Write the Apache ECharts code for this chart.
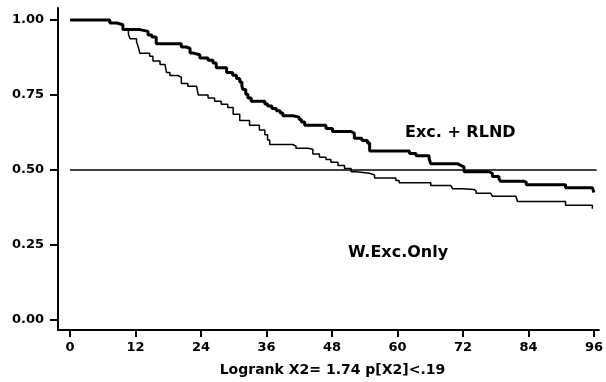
<!DOCTYPE html>
<html>
<head>
<meta charset="utf-8">
<script src="https://cdn.jsdelivr.net/npm/echarts@6/dist/echarts.min.js"></script>
<style>html,body{margin:0;padding:0;background:#fff}#c{width:606px;height:382px}</style>
</head>
<body>
<div id="c"></div>
<script>
// Tick labels
var xTicks = [0, 12, 24, 36, 48, 60, 72, 84, 96];
var yTicks = [0, 0.25, 0.5, 0.75, 1.0];

// Exc. + RLND (months, survival after each drop)
var rlndTime = [0, 7.3, 8.6, 9.7, 12.8, 14.3, 15, 15.8, 20.4, 21.3, 22, 22.5, 23.8, 25.3, 26.2, 26.8, 28.7, 29.8, 30.5, 31.1, 31.5, 31.7, 32.2, 32.6, 33.2, 35.7, 36.2, 37, 37.8, 38.5, 39, 40.8, 42, 42.4, 43, 46.9, 48.1, 51.5, 52.1, 53.5, 54.5, 54.9, 62.2, 63.4, 65.8, 66.1, 71, 71.6, 72.2, 76.8, 77.4, 78.6, 78.9, 83.2, 83.6, 90.8, 95.7, 96];
var rlndSurv = [1.0, 0.99, 0.984, 0.968, 0.962, 0.95, 0.943, 0.921, 0.91, 0.905, 0.89, 0.884, 0.873, 0.866, 0.857, 0.841, 0.825, 0.816, 0.805, 0.793, 0.78, 0.768, 0.752, 0.74, 0.729, 0.72, 0.713, 0.705, 0.697, 0.69, 0.681, 0.676, 0.668, 0.66, 0.649, 0.638, 0.628, 0.622, 0.606, 0.598, 0.59, 0.563, 0.555, 0.547, 0.537, 0.521, 0.515, 0.51, 0.494, 0.488, 0.478, 0.47, 0.462, 0.459, 0.451, 0.441, 0.437, 0.425];

// W.Exc.Only
var excTime = [0, 7.3, 8.6, 9.7, 10.7, 11, 12.2, 12.5, 12.8, 14.6, 15.2, 16.5, 17.4, 17.7, 18.3, 19.8, 20.4, 21.6, 23.2, 23.5, 25.3, 26.5, 27.7, 28.9, 29.9, 31.1, 32.9, 34.7, 35.7, 36.2, 36.6, 40.8, 41.4, 43.6, 44.5, 45.7, 46.9, 47.8, 49.1, 50.3, 51.5, 52.4, 54.9, 55.8, 59.7, 60.3, 66.1, 69.8, 70.1, 71.9, 74, 74.4, 77.1, 77.4, 81.7, 82, 90.8, 95.7];
var excSurv = [1.0, 0.99, 0.984, 0.968, 0.953, 0.9375, 0.927, 0.911, 0.889, 0.879, 0.863, 0.852, 0.847, 0.825, 0.815, 0.809, 0.788, 0.779, 0.777, 0.75, 0.74, 0.729, 0.719, 0.708, 0.686, 0.665, 0.649, 0.633, 0.617, 0.6, 0.585, 0.58, 0.572, 0.569, 0.553, 0.542, 0.535, 0.526, 0.515, 0.505, 0.494, 0.489, 0.483, 0.473, 0.465, 0.457, 0.448, 0.444, 0.4375, 0.435, 0.43, 0.422, 0.419, 0.412, 0.409, 0.395, 0.382, 0.371];

// Reference line at 0.50
var refTime = [0, 96.5];
var refSurv = [0.5, 0.5];

var seriesLabels = ['Exc. + RLND', 'W.Exc.Only'];
var axisNote = 'Logrank X2= 1.74 p[X2]<.19';

function zip(a, b) { return a.map(function (v, i) { return [v, b[i]]; }); }

var chart = echarts.init(document.getElementById('c'), null, { renderer: 'canvas' });
var font = 'DejaVu Sans';
chart.setOption({
  animation: false,
  backgroundColor: '#fff',
  grid: { left: 58, right: 6, top: 8, bottom: 39 },
  xAxis: {
    type: 'value', min: -2.194, max: 96.9,
    axisLine: { onZero: false, lineStyle: { color: '#000', width: 2 } },
    axisTick: { show: true, length: 7, customValues: xTicks, lineStyle: { color: '#000', width: 2 } },
    axisLabel: { customValues: xTicks, margin: 11, color: '#000', fontFamily: font, fontWeight: 'bold', fontSize: 13 },
    splitLine: { show: false },
    name: axisNote, nameLocation: 'middle', nameGap: 33,
    nameTextStyle: { color: '#000', fontFamily: font, fontWeight: 'bold', fontSize: 14, padding: [0, 0, 0, 8] }
  },
  yAxis: {
    type: 'value', min: -0.0337, max: 1.04,
    axisLine: { show: true, onZero: false, lineStyle: { color: '#000', width: 2 } },
    axisTick: { show: true, length: 8, customValues: yTicks, lineStyle: { color: '#000', width: 2 } },
    axisLabel: { customValues: yTicks, margin: 14, color: '#000', fontFamily: font, fontWeight: 'bold', fontSize: 13,
      formatter: function (v) { return v.toFixed(2); } },
    splitLine: { show: false }
  },
  series: [
    { type: 'line', name: 'ref', data: zip(refTime, refSurv), showSymbol: false,
      lineStyle: { color: '#000', width: 1.5 } },
    { type: 'line', name: seriesLabels[1], data: zip(excTime, excSurv), step: 'end', showSymbol: false,
      lineStyle: { color: '#000', width: 1.5 } },
    { type: 'line', name: seriesLabels[0], data: zip(rlndTime, rlndSurv), step: 'end', showSymbol: false,
      lineStyle: { color: '#000', width: 3 } }
  ],
  graphic: [
    { type: 'text', left: 405, top: 125, style: { text: seriesLabels[0], fill: '#000', font: 'bold 16px "DejaVu Sans"' } },
    { type: 'text', left: 348, top: 245, style: { text: seriesLabels[1], fill: '#000', font: 'bold 16px "DejaVu Sans"' } }
  ]
});
</script>
</body>
</html>
